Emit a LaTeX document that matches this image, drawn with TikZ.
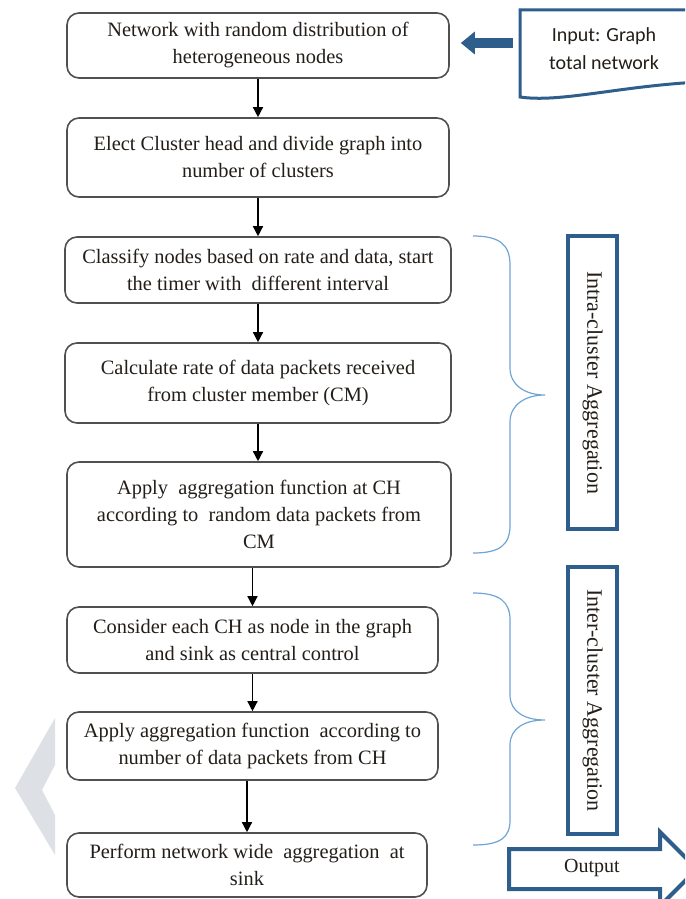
\documentclass[tikz,border=0pt]{standalone}
\usepackage{fontspec}
\setmainfont{Liberation Serif}
\newfontfamily\calib{Carlito}
\usetikzlibrary{arrows.meta,calc}
\definecolor{dblue}{RGB}{46,94,140}
\definecolor{lblue}{RGB}{110,165,215}
\definecolor{boxgray}{RGB}{80,80,80}
\definecolor{chev}{RGB}{221,225,230}
\definecolor{txt}{RGB}{35,30,25}
\begin{document}
\begin{tikzpicture}[x=0.5pt,y=-0.5pt,
  stepbox/.style={draw=boxgray, line width=0.8pt, rounded corners=6pt, fill=white, align=center,
    font=\fontsize{10.2}{13.5}\selectfont, text=txt, inner sep=0pt},
  flow/.style={-{Triangle[length=5pt,width=5pt]}, line width=0.7pt, black},
  sidebox/.style={draw=dblue, line width=2pt, inner sep=0pt, font=\fontsize{11}{12}\selectfont, text=txt, rotate=-90},
  brace/.style={draw=lblue, line width=0.6pt}]
\useasboundingbox (0,0) rectangle (685,899);
\clip (0,0) rectangle (685,899);

% grey chevron
\fill[chev] (55,718) -- (15,788) -- (55,855) -- (55,815) -- (42,790) -- (55,765) -- cycle;

% flow boxes
\node[stepbox, minimum width=191pt, minimum height=32.5pt] (b1) at (258,45.5)
  {Network with random distribution of\\heterogeneous nodes};
\node[stepbox, minimum width=191pt, minimum height=39.5pt] (b2) at (258,157.5)
  {Elect Cluster head and divide graph into\\number of  clusters};
\node[stepbox, minimum width=193pt, minimum height=33pt] (b3) at (258,270)
  {Classify nodes based on rate and data, start\\the timer with \ different interval};
\node[stepbox, minimum width=193pt, minimum height=40pt] (b4) at (258,383)
  {Calculate rate of data packets received\\from cluster member (CM)};
\node[stepbox, minimum width=192pt, minimum height=52.5pt] (b5) at (259,514.5)
  {Apply \ aggregation function at CH\\according to \ random data packets from\\CM};
\node[stepbox, minimum width=185.5pt, minimum height=33pt] (b6) at (252.5,640)
  {Consider each CH as node in the graph\\and sink as central control};
\node[stepbox, minimum width=185.5pt, minimum height=34pt] (b7) at (252.5,746)
  {Apply aggregation function \ according to\\number of data packets from CH};
\node[stepbox, minimum width=180pt, minimum height=32pt] (b8) at (247,865)
  {Perform network wide \ aggregation \ at\\sink};

\draw[flow] (b1.south) -- (b2.north);
\draw[flow] (b2.south) -- (b3.north);
\draw[flow] (b3.south) -- (b4.north);
\draw[flow] (b4.south) -- (b4.south |- b5.north);
\draw[flow] (b6.north |- b5.south) -- (b6.north);
\draw[flow] (b6.south) -- (b6.south |- b7.north);
\draw[flow] (b8.north |- b7.south) -- (b8.north);

% braces
\draw[brace] (473,236) .. controls (500,236) and (510,245) .. (510,265) -- (510,368)
  .. controls (510,385) and (525,395) .. (545,395)
  .. controls (525,395) and (510,405) .. (510,422) -- (510,525)
  .. controls (510,545) and (500,553) .. (473,553);
\draw[brace] (473,593) .. controls (500,593) and (510,602) .. (510,620) -- (510,695)
  .. controls (510,712) and (525,720) .. (545,720)
  .. controls (525,720) and (510,728) .. (510,745) -- (510,820)
  .. controls (510,838) and (500,845) .. (473,845);

% side boxes
\node[sidebox, minimum width=146.5pt, minimum height=24.5pt] (intra) at (592.5,382.5) {Intra-cluster Aggregation};
\node[sidebox, minimum width=133.5pt, minimum height=24.5pt] (inter) at (592.5,700.5) {Inter-cluster Aggregation};

% input document
\draw[dblue, line width=1.5pt, fill=white] (520,97) -- (520,10) -- (700,10) -- (700,82)
  .. controls (620,86) and (560,103) .. (520,97) -- cycle;
\node[font=\calib\fontsize{10}{14}\selectfont, text=txt, align=center] (inp) at (604,49) {Input: Graph\\total network};
\coordinate (docl) at (513,43);
\draw[dblue, line width=5pt, -{Triangle[length=7pt,width=11pt]}, shorten >=5.5pt] (docl) -- (b1.east |- docl);

% output arrow
\draw[dblue, line width=2pt, fill=white, line join=miter] (509,849) -- (660,849) -- (660,832) -- (697,869)
  -- (660,906) -- (660,889) -- (509,889) -- cycle;
\node[font=\fontsize{10}{12}\selectfont, text=txt] (out) at (592,868) {Output};
\end{tikzpicture}
\end{document}
